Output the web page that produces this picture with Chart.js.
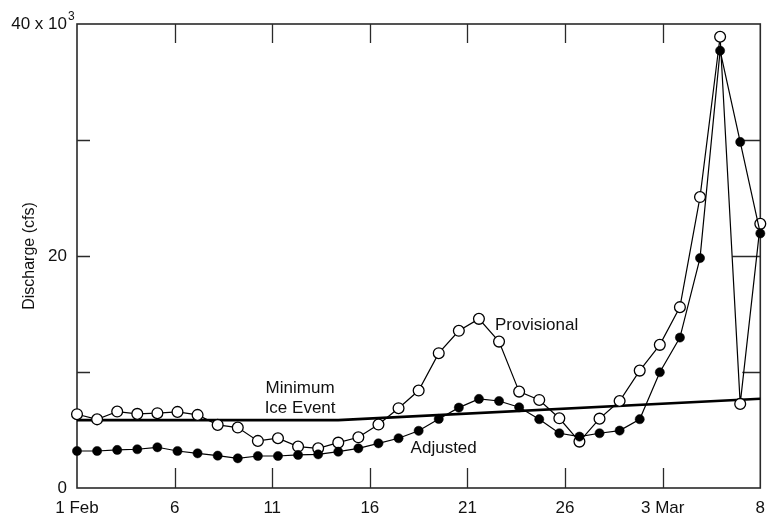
<!DOCTYPE html>
<html>
<head>
<meta charset="utf-8">
<script src="https://cdn.jsdelivr.net/npm/chart.js@4/dist/chart.umd.min.js"></script>
<style>
html,body{margin:0;padding:0;background:#fff;}
#wrap{width:767px;height:518px;}
</style>
</head>
<body>
<div id="wrap"><canvas id="c" width="767" height="518"></canvas></div>
<script>
// ---- data (thousands of cfs) ----
const dayTickLabels = ["1 Feb", "6", "11", "16", "21", "26", "3 Mar", "8"];
const yTickLabels = ["0", "", "20", "", "40 x 10"];
const provisional = [6.36, 5.92, 6.59, 6.39, 6.45, 6.56, 6.30, 5.44, 5.21, 4.06,
                     4.29, 3.57, 3.42, 3.91, 4.37, 5.47, 6.88, 8.40, 11.62, 13.55,
                     14.58, 12.62, 8.31, 7.59, 6.01, 4.00, 5.98, 7.50, 10.12, 12.34,
                     15.59, 25.08, 38.90, 7.25, 22.77];
const adjusted = [3.19, 3.19, 3.28, 3.34, 3.51, 3.19, 2.99, 2.79, 2.56, 2.76,
                  2.76, 2.85, 2.90, 3.13, 3.42, 3.85, 4.29, 4.93, 5.95, 6.93,
                  7.68, 7.50, 6.96, 5.93, 4.72, 4.43, 4.72, 4.95, 5.93, 9.98,
                  12.97, 19.82, 37.70, 29.83, 21.95];
const iceIndex = [0, 13, 34];
const iceValues = [5.85, 5.85, 7.70];
const noteTexts = ["Provisional", "Adjusted", "Minimum", "Ice Event"];

// ---- build library data ----
const toXY = (vals) => vals.map((v, i) => ({x: i, y: v}));
const iceData = iceIndex.map((d, i) => ({x: d, y: iceValues[i]}));

const FONT = "'Liberation Sans', Arial, Helvetica, sans-serif";

// annotation placement in data units (obs index, value)
const notePlace = [
  {x: 20.8, y: 14.06, align: 'left'},
  {x: 16.6, y: 3.45, align: 'left'},
  {x: 11.1, y: 8.63, align: 'center'},
  {x: 11.1, y: 6.90, align: 'center'}
];

const framePlugin = {
  id: 'frame',
  beforeDatasetsDraw(chart) {
    const {ctx, chartArea: a, scales} = chart;
    ctx.save();
    ctx.strokeStyle = '#2a2a2a';
    ctx.lineWidth = 1.6;
    ctx.strokeRect(a.left, a.top, a.right - a.left, a.bottom - a.top);
    ctx.lineWidth = 1.3;
    ctx.beginPath();
    const xs = scales.xd;
    for (const t of xs.ticks) {
      if (t.value <= xs.min || t.value >= xs.max) continue;
      const x = Math.round(xs.getPixelForValue(t.value)) + 0.5;
      ctx.moveTo(x, a.bottom); ctx.lineTo(x, a.bottom - 20);
      ctx.moveTo(x, a.top); ctx.lineTo(x, a.top + 19);
    }
    const ys = scales.y;
    for (const t of ys.ticks) {
      if (t.value <= ys.min || t.value >= ys.max) continue;
      const y = Math.round(ys.getPixelForValue(t.value)) + 0.5;
      ctx.moveTo(a.left, y); ctx.lineTo(a.left + 13, y);
      const rl = (yTickLabels[Math.round(t.value / 10)] !== "") ? 28 : 18;
      ctx.moveTo(a.right, y); ctx.lineTo(a.right - rl, y);
    }
    ctx.stroke();
    ctx.restore();
  },
  afterDraw(chart) {
    const {ctx, scales} = chart;
    const xs = scales.x, ys = scales.y;
    ctx.save();
    ctx.fillStyle = '#111';
    ctx.textBaseline = 'middle';
    ctx.font = '17px ' + FONT;
    noteTexts.forEach((txt, i) => {
      const p = notePlace[i];
      ctx.textAlign = p.align;
      ctx.fillText(txt, xs.getPixelForValue(p.x), ys.getPixelForValue(p.y));
    });
    // superscript exponent on the top y label
    ctx.font = '12px ' + FONT;
    ctx.textAlign = 'left';
    ctx.fillText('3', ys.right - 9, ys.getPixelForValue(ys.max) - 7);
    ctx.restore();
  }
};

new Chart(document.getElementById('c'), {
  type: 'line',
  data: {
    datasets: [
      {
        label: 'Adjusted',
        data: toXY(adjusted),
        xAxisID: 'x', yAxisID: 'y',
        borderColor: '#000', borderWidth: 1.2,
        pointRadius: 4.6, pointBackgroundColor: '#000',
        pointBorderColor: '#000', pointBorderWidth: 0.5,
        tension: 0, order: 0, clip: false
      },
      {
        label: 'Provisional',
        data: toXY(provisional),
        xAxisID: 'x', yAxisID: 'y',
        borderColor: '#000', borderWidth: 1.2,
        pointRadius: 5.4, pointBackgroundColor: '#fff',
        pointBorderColor: '#000', pointBorderWidth: 1.3,
        tension: 0, order: 1, clip: false
      },
      {
        label: 'Minimum Ice Event',
        data: iceData,
        xAxisID: 'x', yAxisID: 'y',
        borderColor: '#000', borderWidth: 2.6,
        pointRadius: 0, tension: 0, order: 2, clip: false
      }
    ]
  },
  options: {
    responsive: false,
    animation: false,
    devicePixelRatio: 1,
    layout: {padding: {top: 24, right: 2, left: 0, bottom: 0}},
    plugins: {legend: {display: false}, tooltip: {enabled: false}},
    scales: {
      x: {
        type: 'linear', display: false,
        min: 0, max: provisional.length - 1
      },
      xd: {
        type: 'linear', position: 'bottom',
        min: 0, max: (dayTickLabels.length - 1) * 5,
        grid: {display: false, drawTicks: false},
        border: {display: false},
        ticks: {
          stepSize: 5, autoSkip: false, maxRotation: 0,
          padding: 10, color: '#111',
          font: {family: FONT, size: 17},
          callback: (v) => dayTickLabels[Math.round(v / 5)] ?? ''
        },
        afterFit(s) { s.height = 30; s.paddingLeft = 0; s.paddingRight = 0; }
      },
      y: {
        type: 'linear', position: 'left',
        min: 0, max: 40,
        grid: {display: false, drawTicks: false},
        border: {display: false},
        ticks: {
          stepSize: 10, padding: 10, color: '#111',
          font: {family: FONT, size: 17},
          callback: (v) => yTickLabels[Math.round(v / 10)] ?? ''
        },
        title: {
          display: true, text: 'Discharge (cfs)', color: '#111',
          font: {family: FONT, size: 16},
          padding: {top: 20, bottom: 0}
        },
        afterFit(s) { s.width = 77; s.paddingTop = 0; s.paddingBottom = 0; }
      }
    }
  },
  plugins: [framePlugin]
});
</script>
</body>
</html>
